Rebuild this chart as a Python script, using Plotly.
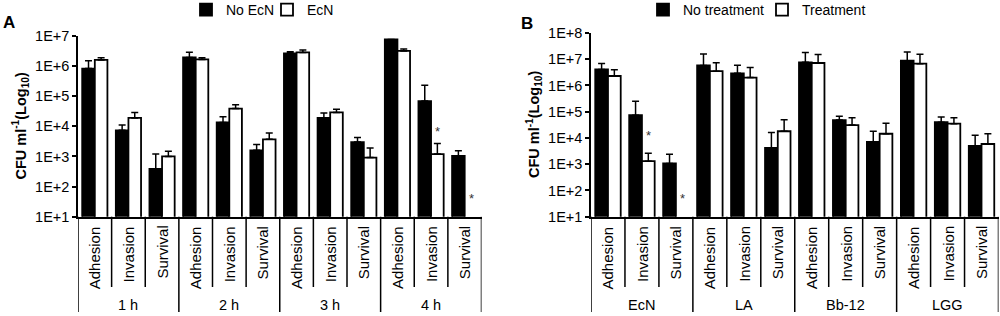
import math
import plotly.graph_objects as go

# ---------------- data ----------------
stages = ["Adhesion", "Invasion", "Survival"]
groups_A = ["1 h", "2 h", "3 h", "4 h"]
groups_B = ["EcN", "LA", "Bb-12", "LGG"]

A_no_ecn = [8.3e5, 7.4e3, 390, 1.95e6, 1.35e4, 1.6e3, 2.65e6, 1.9e4, 3.0e3, 7.7e6, 6.9e4, 1.05e3]
A_no_ecn_top = [1.5e6, 1.1e4, 1.2e3, 2.9e6, 2.1e4, 2.5e3, 3.0e6, 2.8e4, 4.3e3, None, 2.3e5, 1.55e3]
A_ecn = [1.6e6, 1.9e4, 1.0e3, 1.67e6, 3.9e4, 3.7e3, 2.85e6, 2.9e4, 920, 3.2e6, 1.2e3, None]
A_ecn_top = [1.9e6, 2.9e4, 1.5e3, 1.9e6, 5.2e4, 6.0e3, 3.4e6, 3.7e4, 1.9e3, 3.7e6, 2.7e3, None]

B_no_treat = [4.1e6, 7.4e4, 1.07e3, 5.8e6, 2.9e6, 4.2e3, 7.6e6, 4.8e4, 7.1e3, 8.8e6, 4.0e4, 5.0e3]
B_no_treat_top = [6.9e6, 2.5e5, 2.4e3, 1.6e7, 5.9e6, 1.6e4, 1.8e7, 6.7e4, 1.8e4, 1.9e7, 6.3e4, 1.27e4]
B_treat = [2.3e6, 1.3e3, None, 3.5e6, 2.0e6, 1.8e4, 7.2e6, 3.1e4, 1.45e4, 6.8e6, 3.5e4, 5.9e3]
B_treat_top = [4.0e6, 2.6e3, None, 7.4e6, 4.8e6, 5.0e4, 1.5e7, 5.9e4, 3.6e4, 1.55e7, 5.9e4, 1.45e4]

# significance asterisks: (category index, y value)
sig_A = [(10, 6.5e3), (11, 41)]
sig_B = [(1, 1.2e4), (2, 51)]

ticks_A = [1e1, 1e2, 1e3, 1e4, 1e5, 1e6, 1e7]
ticklabels_A = ["1E+1", "1E+2", "1E+3", "1E+4", "1E+5", "1E+6", "1E+7"]
ticks_B = [1e1, 1e2, 1e3, 1e4, 1e5, 1e6, 1e7, 1e8]
ticklabels_B = ["1E+1", "1E+2", "1E+3", "1E+4", "1E+5", "1E+6", "1E+7", "1E+8"]

# ---------------- helpers ----------------
FONT = "Liberation Sans, Arial, sans-serif"
n = len(stages) * len(groups_A)
xpos = list(range(n))


def err(vals, tops):
    return [None if (v is None or t is None) else t - v for v, t in zip(vals, tops)]


def bar(name, vals, tops, fill, xa, ya, legend):
    return go.Bar(
        x=xpos, y=vals, name=name,
        marker=dict(color=fill, line=dict(color="black", width=1.8)),
        error_y=dict(type="data", symmetric=False, array=err(vals, tops),
                     arrayminus=[0] * n, color="black", thickness=1.5, width=3.5),
        xaxis=xa, yaxis=ya, legend=legend,
    )


fig = go.Figure()
fig.add_trace(bar("No EcN", A_no_ecn, A_no_ecn_top, "black", "x", "y", "legend"))
fig.add_trace(bar("EcN", A_ecn, A_ecn_top, "white", "x", "y", "legend"))
fig.add_trace(bar("No treatment", B_no_treat, B_no_treat_top, "black", "x2", "y2", "legend2"))
fig.add_trace(bar("Treatment", B_treat, B_treat_top, "white", "x2", "y2", "legend2"))

W, H = 1000, 316
def py(p):  # pixel y from top -> paper
    return (H - p) / H

y_bot = py(216.7)
xdomA = [78 / W, 481.5 / W]
xdomB = [591 / W, 998.5 / W]

xcommon = dict(range=[-0.5, n - 0.5], showticklabels=False, ticks="", showgrid=False,
               zeroline=False, showline=True, linecolor="black", linewidth=1.5, fixedrange=True)
ycommon = dict(type="log", showgrid=False, zeroline=False, showline=True, linecolor="black",
               linewidth=1.5, ticks="outside", ticklen=4, tickwidth=1.5, tickcolor="black",
               tickfont=dict(family=FONT, size=14.5, color="black"), fixedrange=True)

fig.update_layout(
    width=W, height=H,
    margin=dict(l=0, r=0, t=0, b=0, autoexpand=False),
    paper_bgcolor="white", plot_bgcolor="white",
    barmode="group", bargap=0.25, bargroupgap=0,
    font=dict(family=FONT, color="black"),
    xaxis=dict(domain=xdomA, anchor="y", **xcommon),
    yaxis=dict(domain=[y_bot, py(36)], anchor="x", range=[1, 7],
               tickvals=ticks_A, ticktext=ticklabels_A, **ycommon),
    xaxis2=dict(domain=xdomB, anchor="y2", **xcommon),
    yaxis2=dict(domain=[y_bot, py(33)], anchor="x2", range=[1, 8],
                tickvals=ticks_B, ticktext=ticklabels_B, **ycommon),
    legend=dict(orientation="h", x=186 / W, xanchor="left", y=py(10), yanchor="middle",
                font=dict(family=FONT, size=14, color="black"), entrywidth=36,
                itemwidth=30, bgcolor="rgba(0,0,0,0)", tracegroupgap=0),
    legend2=dict(orientation="h", x=643 / W, xanchor="left", y=py(10), yanchor="middle",
                 font=dict(family=FONT, size=14, color="black"), entrywidth=74,
                 itemwidth=30, bgcolor="rgba(0,0,0,0)", tracegroupgap=0),
    showlegend=True,
)

shapes = []
annotations = []
for xref, groups in (("x", groups_A), ("x2", groups_B)):
    # table lines below the axis
    for b in range(n + 1):
        is_group = b % len(stages) == 0
        shapes.append(dict(type="line", xref=xref, yref="paper", x0=b - 0.5, x1=b - 0.5,
                           y0=y_bot, y1=py(312) if is_group else py(287),
                           line=dict(color="black", width=1.5)))
    # inner labels
    for i in range(n):
        annotations.append(dict(xref=xref, yref="paper", x=i, y=py(224), text=stages[i % 3],
                                textangle=-90, xanchor="center", yanchor="top", showarrow=False,
                                font=dict(family=FONT, size=15, color="black")))
    # group labels
    for g, name in enumerate(groups):
        annotations.append(dict(xref=xref, yref="paper", x=g * 3 + 1, y=py(305), text=name,
                                xanchor="center", yanchor="middle", showarrow=False,
                                font=dict(family=FONT, size=14.5, color="black")))

# asterisks
for xref, yref, sig in (("x", "y", sig_A), ("x2", "y2", sig_B)):
    for i, v in sig:
        annotations.append(dict(xref=xref, yref=yref, x=i + 0.19, y=math.log10(v), text="*",
                                showarrow=False, xanchor="center", yanchor="middle",
                                font=dict(family=FONT, size=13, color="#333")))

# axis titles
ytitle = "<b>CFU ml<sup>-1</sup>(Log<sub>10</sub>)</b>"
annotations.append(dict(xref="paper", yref="paper", x=20 / W, y=py(126.5), text=ytitle,
                        textangle=-90, showarrow=False, xanchor="center", yanchor="middle",
                        font=dict(family=FONT, size=14.5, color="black")))
annotations.append(dict(xref="paper", yref="paper", x=534 / W, y=py(125), text=ytitle,
                        textangle=-90, showarrow=False, xanchor="center", yanchor="middle",
                        font=dict(family=FONT, size=14.5, color="black")))
# panel letters
annotations.append(dict(xref="paper", yref="paper", x=9 / W, y=py(22.5), text="<b>A</b>",
                        showarrow=False, xanchor="center", yanchor="middle",
                        font=dict(family=FONT, size=17, color="black")))
annotations.append(dict(xref="paper", yref="paper", x=527 / W, y=py(23), text="<b>B</b>",
                        showarrow=False, xanchor="center", yanchor="middle",
                        font=dict(family=FONT, size=17, color="black")))

fig.update_layout(shapes=shapes, annotations=annotations)
fig.write_html("out.html", config={"displayModeBar": False},
               post_script="document.body.style.margin='0px';document.body.style.padding='0px';")
